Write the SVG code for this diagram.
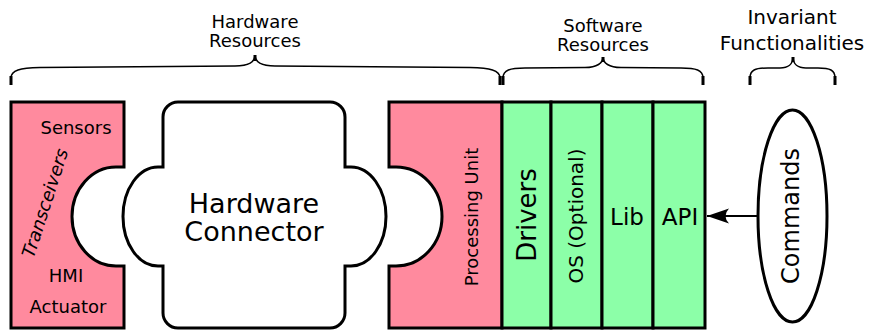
<svg xmlns="http://www.w3.org/2000/svg" width="870" height="331" viewBox="0 0 870 331">
<style>
text{font-family:"DejaVu Sans","Liberation Sans",sans-serif;fill:#000}
.box{stroke:#000;stroke-width:3;stroke-linejoin:miter}
.pink{fill:#ff8a9e}
.green{fill:#8cffa8}
.white{fill:#fff}
.brace{fill:none;stroke:#000;stroke-width:1.5}
.braceEnd{fill:none;stroke:#000;stroke-width:3}
.mid{text-anchor:middle}
</style>
<defs>
<marker id="arr" markerUnits="userSpaceOnUse" markerWidth="24" markerHeight="18" refX="22" refY="9" orient="auto" viewBox="0 0 24 18">
<path d="M22,9 L0,1.5 Q7,9 0,16.5 Z" fill="#000"/>
</marker>
</defs>
<rect width="870" height="331" fill="#fff"/>

<g id="braces">
<path class="brace" d="M11,85 V78 C11,70 20,68 40,67.5 L235,66 C249,66 255,62 255,55 C255,62 261,66 275,66 L470,67.5 C490,68 500,70 500,78 V85"/>
<path class="braceEnd" d="M11,76 V85 M500,76 V85 M255,55 V61"/>
<path class="brace" d="M503,85 V78 C503,70 510,68 525,68 L585,67.5 C597,67.5 603,63 603,57 C603,63 609,67.5 621,67.5 L681,68 C696,68 703,70 703,78 V85"/>
<path class="braceEnd" d="M503,76 V85 M703,76 V85 M603,57 V62"/>
<path class="brace" d="M750,85 V78 C750,70 755,68 768,68 L780,68 C788,68 793,64 793,57 C793,64 798,68 806,68 L818,68 C830,68 835,70 835,78 V85"/>
<path class="braceEnd" d="M750,76 V85 M835,76 V85 M793,57 V62"/>
<text class="mid" x="255" y="28" font-size="18">Hardware</text>
<text class="mid" x="255" y="47" font-size="18">Resources</text>
<text class="mid" x="603" y="32" font-size="18">Software</text>
<text class="mid" x="603" y="51" font-size="18">Resources</text>
<text class="mid" x="792" y="24" font-size="20">Invariant</text>
<text class="mid" x="792" y="50" font-size="20">Functionalities</text>
</g>

<g id="transceivers">
<path class="box pink" d="M11,102 H124 V167 H116 A44,49.5 0 0 0 116,266 H124 V328 H11 Z"/>
<text class="mid" x="76" y="134" font-size="18">Sensors</text>
<text class="mid" transform="translate(51,205) rotate(-72)" font-size="18" font-style="italic">Transceivers</text>
<text class="mid" x="66" y="282" font-size="18">HMI</text>
<text class="mid" x="68" y="313" font-size="18">Actuator</text>
</g>

<g id="hardware-connector">
<path class="box white" d="M178,102 H330 A15,15 0 0 1 345,117 V167 H351 A35,49.5 0 0 1 351,266 H345 V313 A15,15 0 0 1 330,328 H178 A15,15 0 0 1 163,313 V266 H158 A35,49.5 0 0 1 158,167 H163 V117 A15,15 0 0 1 178,102 Z"/>
<text class="mid" x="254" y="213" font-size="27">Hardware</text>
<text class="mid" x="254" y="241" font-size="27">Connector</text>
</g>

<g id="processing-unit">
<path class="box pink" d="M389,102 H502 V328 H389 V266 H396 A46,49.5 0 0 0 396,167 H389 Z"/>
<text class="mid" transform="translate(478,217) rotate(-90)" font-size="18">Processing Unit</text>
</g>

<g id="drivers">
<rect class="box green" x="502" y="102" width="49" height="226"/>
<text class="mid" transform="translate(536,215) rotate(-90)" font-size="26">Drivers</text>
</g>

<g id="os">
<rect class="box green" x="551" y="102" width="51" height="226"/>
<text class="mid" transform="translate(583,216) rotate(-90)" font-size="20">OS (Optional)</text>
</g>

<g id="lib">
<rect class="box green" x="602" y="102" width="51" height="226"/>
<text class="mid" x="627" y="225" font-size="23">Lib</text>
</g>

<g id="api">
<rect class="box green" x="653" y="102" width="52" height="226"/>
<text class="mid" x="680" y="225" font-size="23">API</text>
</g>

<g id="commands">
<ellipse cx="792.5" cy="216" rx="34.5" ry="106" fill="#fff" stroke="#000" stroke-width="3"/>
<text class="mid" transform="translate(799,216) rotate(-90)" font-size="24">Commands</text>
</g>

<g id="connectors">
<line x1="758" y1="216" x2="707" y2="216" stroke="#000" stroke-width="2.2" marker-end="url(#arr)"/>
</g>
</svg>
